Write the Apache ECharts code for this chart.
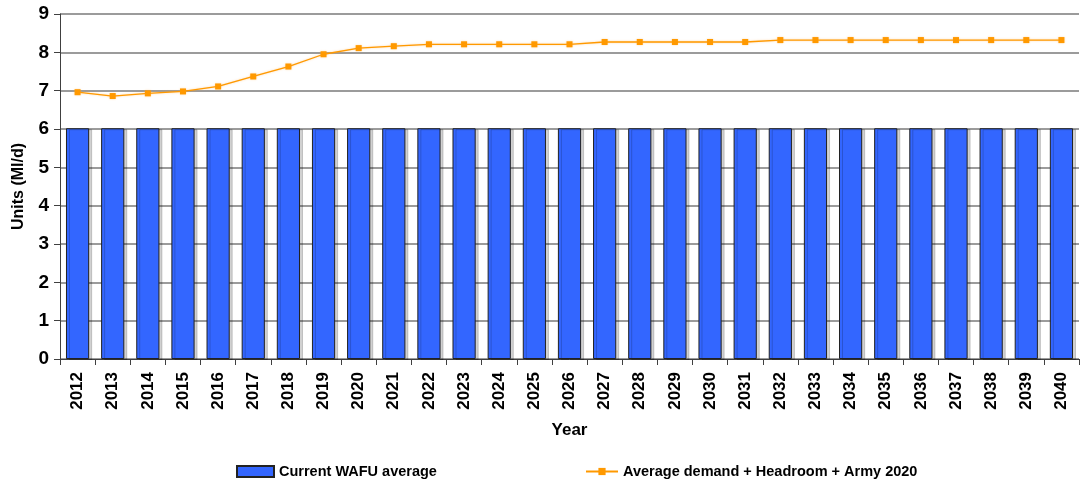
<!DOCTYPE html>
<html>
<head>
<meta charset="utf-8">
<script src="https://cdn.jsdelivr.net/npm/echarts@6/dist/echarts.min.js"></script>
<style>
  html, body { margin: 0; padding: 0; background: #fff; }
  #chart { width: 1081px; height: 485px; }
</style>
</head>
<body>
<div id="chart"></div>
<script>
// Years on the category axis
const years = ['2012','2013','2014','2015','2016','2017','2018','2019','2020','2021',
  '2022','2023','2024','2025','2026','2027','2028','2029','2030','2031',
  '2032','2033','2034','2035','2036','2037','2038','2039','2040'];

// Current water available for use (Ml/d)
const wafu = [6.02,6.02,6.02,6.02,6.02,6.02,6.02,6.02,6.02,6.02,
  6.02,6.02,6.02,6.02,6.02,6.02,6.02,6.02,6.02,6.02,
  6.02,6.02,6.02,6.02,6.02,6.02,6.02,6.02,6.02];

// Average demand + headroom + Army 2020 (Ml/d)
const demand = [6.96,6.86,6.93,6.98,7.11,7.37,7.63,7.95,8.11,8.16,
  8.21,8.21,8.21,8.21,8.21,8.27,8.27,8.27,8.27,8.27,
  8.32,8.32,8.32,8.32,8.32,8.32,8.32,8.32,8.32];

const yTicks = [0,1,2,3,4,5,6,7,8,9];

const font = 'Liberation Sans, Arial, sans-serif';
const chart = echarts.init(document.getElementById('chart'));

chart.setOption({
  animation: false,
  textStyle: { fontFamily: font },
  grid: { left: 60, right: 2, top: 14, bottom: 126, containLabel: false, outerBoundsMode: 'none' },
  legend: [
    {
      data: [{ name: 'Current WAFU average', icon: 'rect' }],
      left: 231, top: 459,
      itemWidth: 37, itemHeight: 11, itemGap: 10,
      textStyle: { fontFamily: font, fontWeight: 'bold', fontSize: 14.5, color: '#000' }
    },
    {
      data: ['Average demand + Headroom + Army 2020'],
      left: 580, top: 459,
      itemWidth: 32, itemHeight: 9, itemGap: 4,
      textStyle: { fontFamily: font, fontWeight: 'bold', fontSize: 14.5, color: '#000' }
    }
  ],
  xAxis: {
    type: 'category',
    data: years,
    name: 'Year',
    nameLocation: 'middle',
    nameGap: 63,
    nameTextStyle: { fontFamily: font, fontWeight: 'bold', fontSize: 17, color: '#000' },
    axisLine: { lineStyle: { color: '#404040', width: 1 } },
    axisTick: { show: true, alignWithLabel: false, length: 6, lineStyle: { color: '#404040' } },
    axisLabel: { rotate: 90, fontFamily: font, fontWeight: 'bold', fontSize: 17, color: '#000', margin: 13 }
  },
  yAxis: {
    type: 'value',
    min: 0, max: 9, interval: 1,
    name: 'Units (Ml/d)',
    nameLocation: 'middle',
    nameGap: 33,
    nameRotate: 90,
    nameTextStyle: { fontFamily: font, fontWeight: 'bold', fontSize: 16, color: '#000' },
    axisLine: { show: true, lineStyle: { color: '#404040', width: 1 } },
    axisTick: { show: true, inside: false, length: 6, lineStyle: { color: '#404040' } },
    axisLabel: {
      fontFamily: font, fontWeight: 'bold', fontSize: 19, color: '#000', margin: 11,
      formatter: v => (yTicks.includes(v) ? String(v) : '')
    },
    splitLine: { show: true, lineStyle: { color: '#7a7a7a', width: 1.6 } }
  },
  series: [
    {
      name: 'Current WAFU average',
      type: 'bar',
      data: wafu,
      barCategoryGap: '34%',
      itemStyle: {
        color: '#3366FF',
        borderColor: '#222',
        borderWidth: 1,
        shadowColor: 'rgba(0,0,0,0.18)',
        shadowOffsetX: 3,
        shadowOffsetY: 1,
        shadowBlur: 0
      }
    },
    {
      name: 'Average demand + Headroom + Army 2020',
      type: 'line',
      data: demand,
      symbol: 'rect',
      symbolSize: 6,
      itemStyle: { color: '#FF9900', shadowColor: 'rgba(255,170,60,0.45)', shadowBlur: 2 },
      lineStyle: { color: '#FF9900', width: 1.3, shadowColor: 'rgba(255,170,60,0.5)', shadowBlur: 2 },
      z: 3
    }
  ]
});
</script>
</body>
</html>
